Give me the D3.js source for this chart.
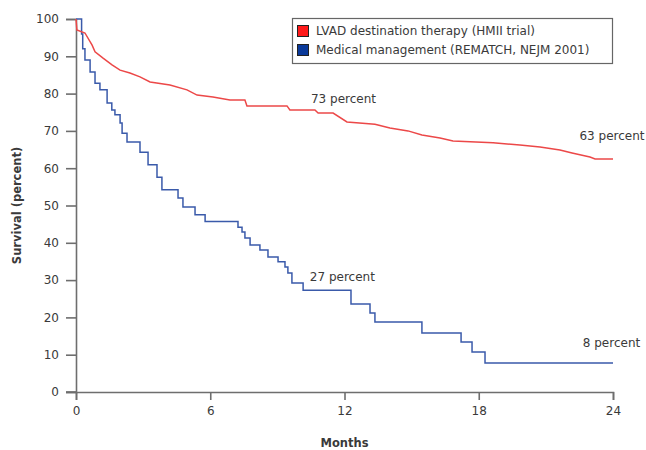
<!DOCTYPE html>
<html>
<head>
<meta charset="utf-8">
<script src="https://cdn.jsdelivr.net/npm/d3@7"></script>
<style>
  body { margin: 0; background: #fff; }
  svg { display: block; font-family: "DejaVu Sans", Verdana, sans-serif; }
</style>
</head>
<body>
<svg id="chart" width="646" height="450"></svg>
<script>
// ---- Data ----
const seriesNames = ["LVAD destination therapy (HMII trial)", "Medical management (REMATCH, NEJM 2001)"];
const xTicks = [0, 6, 12, 18, 24];
const yTicks = [0, 10, 20, 30, 40, 50, 60, 70, 80, 90, 100];

// LVAD (HMII) survival, [month, percent] (many small steps, traced as a path)
const lvadMonths = [0, 0.04, 0.40, 0.72, 0.85, 1.21, 1.61, 1.97, 2.41, 2.86, 3.31, 4.20, 4.96, 5.41, 6.12, 6.88, 7.55, 7.64, 9.43, 9.56, 10.68, 10.82, 11.49, 12.11, 13.36, 14.03, 14.84, 15.46, 16.27, 16.85, 18.64, 19.84, 20.74, 21.63, 22.17, 22.97, 23.20, 24];
const lvadSurvival = [100, 97.05, 96.25, 93.0, 91.2, 89.5, 87.7, 86.3, 85.5, 84.5, 83.1, 82.3, 81.0, 79.6, 79.1, 78.3, 78.3, 76.7, 76.7, 75.6, 75.6, 74.8, 74.8, 72.4, 71.8, 70.8, 70.0, 68.9, 68.1, 67.3, 66.8, 66.2, 65.7, 64.9, 64.1, 63.0, 62.5, 62.5];

// Medical management (REMATCH), [month, percent] (step function)
const medMonths = [0, 0.25, 0.3, 0.4, 0.63, 0.85, 1.07, 1.39, 1.6, 1.74, 1.97, 2.06, 2.28, 2.86, 3.22, 3.62, 3.84, 4.56, 4.78, 5.32, 5.77, 7.24, 7.42, 7.55, 7.78, 8.22, 8.58, 9.03, 9.34, 9.47, 9.65, 10.15, 12.29, 13.14, 13.36, 15.46, 17.21, 17.7, 18.28, 24];
const medSurvival = [100, 96, 92, 89, 85.8, 82.8, 81, 77.5, 75.6, 74.3, 72.1, 69.4, 67, 64.3, 60.9, 57.6, 54.2, 52, 49.6, 47.5, 45.7, 44.2, 42.9, 41.3, 39.4, 38.1, 36.2, 34.9, 33.5, 31.9, 29.2, 27.3, 23.6, 21.2, 18.8, 15.8, 13.4, 10.7, 7.8, 7.8];

const annotations = [
  { text: "73 percent", month: 10.5, value: 78.5 },
  { text: "63 percent", month: 22.5, value: 68.5 },
  { text: "27 percent", month: 10.45, value: 30.8 },
  { text: "8 percent", month: 22.65, value: 13.0 }
];

// ---- Layout ----
const svg = d3.select("#chart");
const x = d3.scaleLinear().domain([0, 24]).range([76, 613]);
const y = d3.scaleLinear().domain([0, 100]).range([392, 19]);
const textColor = "#3a3a3a";
const axisColor = "#6e6e6e";

const yAxis = svg.append("g").attr("transform", `translate(${x(0)},0)`)
  .call(d3.axisLeft(y).tickValues(yTicks).tickSize(10).tickPadding(7));
const xAxis = svg.append("g").attr("transform", `translate(0,${y(0)})`)
  .call(d3.axisBottom(x).tickValues(xTicks).tickSize(8).tickPadding(6));

[yAxis, xAxis].forEach(g => {
  g.selectAll("path.domain").attr("stroke", axisColor).attr("stroke-width", 1.6);
  g.selectAll(".tick line").attr("stroke", axisColor).attr("stroke-width", 1.6);
  g.selectAll(".tick text").attr("fill", textColor).attr("font-size", 12)
    .attr("font-family", "DejaVu Sans, Verdana, sans-serif");
});
svg.append("line").attr("x1", x(0) - 10).attr("x2", x(0)).attr("y1", y(0)).attr("y2", y(0))
  .attr("stroke", axisColor).attr("stroke-width", 1.6);

// Axis titles
svg.append("text").attr("x", x(12)).attr("y", 447).attr("text-anchor", "middle")
  .attr("font-size", 11.5).attr("font-weight", "bold").attr("fill", textColor).text("Months");
svg.append("text").attr("transform", `translate(21,${y(50)}) rotate(-90)`).attr("text-anchor", "middle")
  .attr("font-size", 11.5).attr("font-weight", "bold").attr("fill", textColor).text("Survival (percent)");

// Lines
const stepLine = d3.line().x(d => x(d[0])).y(d => y(d[1])).curve(d3.curveStepAfter);
const pathLine = d3.line().x(d => x(d[0])).y(d => y(d[1])).curve(d3.curveLinear);
const lvad = d3.zip(lvadMonths, lvadSurvival);
const med = d3.zip(medMonths, medSurvival);
svg.append("path").datum(med).attr("d", stepLine).attr("fill", "none")
  .attr("stroke", "#3a5aaa").attr("stroke-width", 1.5);
svg.append("path").datum(lvad).attr("d", pathLine).attr("fill", "none")
  .attr("stroke", "#ec4848").attr("stroke-width", 1.5);

// Annotations
svg.selectAll("text.ann").data(annotations).enter().append("text").attr("class", "ann")
  .attr("x", d => x(d.month)).attr("y", d => y(d.value))
  .attr("font-size", 12).attr("fill", textColor).attr("dominant-baseline", "middle")
  .text(d => d.text);

// Legend
const lg = svg.append("g");
lg.append("rect").attr("x", 292.5).attr("y", 18.5).attr("width", 320).attr("height", 45)
  .attr("fill", "#fff").attr("stroke", "#666").attr("stroke-width", 1.2);
const legendColors = ["#ff1a1a", "#0a3a9a"];
seriesNames.forEach((name, i) => {
  const cy = 31 + i * 19;
  lg.append("rect").attr("x", 297.5).attr("y", cy - 5.5).attr("width", 11).attr("height", 11)
    .attr("fill", legendColors[i]).attr("stroke", "#222").attr("stroke-width", 1);
  lg.append("text").attr("x", 316).attr("y", cy).attr("dominant-baseline", "middle")
    .attr("font-size", 12).attr("fill", textColor).text(name);
});
</script>
</body>
</html>
